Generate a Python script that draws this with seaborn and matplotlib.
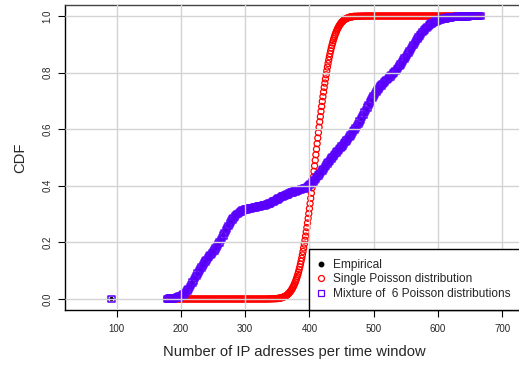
import matplotlib
matplotlib.use("Agg")
import matplotlib.pyplot as plt
from matplotlib.lines import Line2D
import seaborn as sns
import pandas as pd

# ---------------- data ----------------
outlier_x = [92]
outlier_cdf = [0.0]

# mixture of 6 Poisson: CDF every 2 addresses from 178 to 666
mixture_x = list(range(178, 667, 2))
mixture_cdf = [
    0.000, 0.000, 0.001, 0.001, 0.002, 0.002, 0.003, 0.004, 0.005, 0.006,
    0.008, 0.010, 0.013, 0.016, 0.020, 0.025, 0.030, 0.036, 0.043, 0.050,
    0.058, 0.066, 0.074, 0.082, 0.090, 0.098, 0.105, 0.112, 0.119, 0.126,
    0.132, 0.138, 0.144, 0.150, 0.155, 0.160, 0.166, 0.172, 0.178, 0.185,
    0.192, 0.200, 0.208, 0.216, 0.225, 0.234, 0.242, 0.250, 0.258, 0.266,
    0.273, 0.280, 0.286, 0.291, 0.296, 0.300, 0.304, 0.307, 0.310, 0.312,
    0.314, 0.316, 0.317, 0.318, 0.319, 0.320, 0.321, 0.322, 0.323, 0.324,
    0.325, 0.326, 0.327, 0.328, 0.329, 0.330, 0.331, 0.332, 0.334, 0.336,
    0.338, 0.340, 0.342, 0.344, 0.347, 0.350, 0.352, 0.355, 0.357, 0.360,
    0.362, 0.364, 0.366, 0.368, 0.370, 0.372, 0.374, 0.376, 0.377, 0.379,
    0.380, 0.382, 0.383, 0.385, 0.386, 0.388, 0.389, 0.391, 0.393, 0.395,
    0.398, 0.402, 0.407, 0.411, 0.416, 0.421, 0.426, 0.431, 0.437, 0.442,
    0.448, 0.454, 0.460, 0.466, 0.472, 0.478, 0.484, 0.490, 0.496, 0.501,
    0.507, 0.512, 0.518, 0.523, 0.528, 0.533, 0.538, 0.543, 0.549, 0.554,
    0.560, 0.566, 0.572, 0.578, 0.585, 0.591, 0.598, 0.605, 0.612, 0.619,
    0.627, 0.635, 0.643, 0.651, 0.660, 0.668, 0.677, 0.685, 0.694, 0.702,
    0.710, 0.718, 0.725, 0.732, 0.738, 0.744, 0.750, 0.755, 0.760, 0.765,
    0.769, 0.774, 0.778, 0.783, 0.787, 0.792, 0.796, 0.801, 0.806, 0.811,
    0.817, 0.823, 0.829, 0.835, 0.842, 0.849, 0.856, 0.863, 0.870, 0.877,
    0.884, 0.891, 0.898, 0.905, 0.912, 0.918, 0.925, 0.931, 0.937, 0.943,
    0.948, 0.953, 0.958, 0.962, 0.966, 0.970, 0.973, 0.976, 0.978, 0.980,
    0.982, 0.984, 0.986, 0.988, 0.989, 0.990, 0.991, 0.992, 0.993, 0.994,
    0.995, 0.995, 0.996, 0.996, 0.997, 0.997, 0.998, 0.998, 0.998, 0.999,
    0.999, 0.999, 0.999, 0.999, 0.999, 1.000, 1.000, 1.000, 1.000, 1.000,
    1.000, 1.000, 1.000, 1.000, 1.000,
]

# empirical CDF: every 4 addresses from 178 to 666
empirical_x = list(range(178, 667, 4))
empirical_cdf = [
    0.000, 0.001, 0.002, 0.004, 0.006, 0.009, 0.014, 0.021, 0.031, 0.044,
    0.058, 0.073, 0.089, 0.104, 0.118, 0.131, 0.143, 0.155, 0.167, 0.180,
    0.194, 0.209, 0.226, 0.243, 0.259, 0.274, 0.287, 0.297, 0.305, 0.310,
    0.314, 0.317, 0.319, 0.321, 0.323, 0.325, 0.327, 0.329, 0.331, 0.334,
    0.338, 0.342, 0.347, 0.352, 0.357, 0.362, 0.366, 0.370, 0.373, 0.377,
    0.380, 0.383, 0.386, 0.389, 0.393, 0.398, 0.407, 0.416, 0.426, 0.437,
    0.448, 0.460, 0.472, 0.484, 0.496, 0.507, 0.518, 0.528, 0.538, 0.549,
    0.560, 0.572, 0.585, 0.592, 0.605, 0.619, 0.635, 0.652, 0.669, 0.686,
    0.702, 0.717, 0.730, 0.742, 0.753, 0.762, 0.771, 0.780, 0.789, 0.798,
    0.808, 0.819, 0.831, 0.845, 0.859, 0.874, 0.889, 0.903, 0.917, 0.929,
    0.940, 0.950, 0.958, 0.965, 0.970, 0.975, 0.979, 0.983, 0.986, 0.988,
    0.990, 0.992, 0.994, 0.995, 0.996, 0.997, 0.998, 0.999, 0.999, 1.000,
    1.000, 1.000, 1.000,
]

# single Poisson fit: flat low part, steep part (every count), flat high part
poisson_low_x = list(range(178, 350, 2))
poisson_low_cdf = [
    0.0, 0.0, 0.0, 0.0, 0.0, 0.0, 0.0, 0.0, 0.0, 0.0,
    0.0, 0.0, 0.0, 0.0, 0.0, 0.0, 0.0, 0.0, 0.0, 0.0,
    0.0, 0.0, 0.0, 0.0, 0.0, 0.0, 0.0, 0.0, 0.0, 0.0,
    0.0, 0.0, 0.0, 0.0, 0.0, 0.0, 0.0, 0.0, 0.0, 0.0,
    0.0, 0.0, 0.0, 0.0, 0.0, 0.0, 0.0, 0.0, 0.0, 0.0,
    0.0, 0.0, 0.0, 0.0, 0.0, 0.0, 0.0, 0.0, 0.0, 0.0,
    0.0, 0.0, 0.0, 0.0, 0.0, 0.0, 0.0, 0.0, 0.0, 0.0,
    0.0, 0.0, 0.0, 0.0, 0.0, 0.0, 0.0, 0.0, 0.0, 0.0003,
    0.0004, 0.0005, 0.0006, 0.0008, 0.0010, 0.0012,
]
poisson_mid_x = list(range(350, 470))
poisson_mid_cdf = [
    0.0017, 0.0019, 0.0023, 0.0026, 0.0031, 0.0036, 0.0041, 0.0048, 0.0055, 0.0063,
    0.0073, 0.0083, 0.0095, 0.0108, 0.0123, 0.0140, 0.0159, 0.0179, 0.0202, 0.0228,
    0.0255, 0.0287, 0.0320, 0.0358, 0.0398, 0.0442, 0.0491, 0.0542, 0.0599, 0.0660,
    0.0727, 0.0797, 0.0872, 0.0953, 0.1040, 0.1131, 0.1230, 0.1333, 0.1441, 0.1557,
    0.1678, 0.1804, 0.1938, 0.2076, 0.2221, 0.2370, 0.2524, 0.2686, 0.2851, 0.3019,
    0.3196, 0.3372, 0.3557, 0.3741, 0.3929, 0.4121, 0.4313, 0.4510, 0.4705, 0.4901,
    0.5099, 0.5295, 0.5490, 0.5687, 0.5879, 0.6071, 0.6259, 0.6443, 0.6628, 0.6804,
    0.6981, 0.7149, 0.7314, 0.7476, 0.7630, 0.7779, 0.7924, 0.8062, 0.8196, 0.8322,
    0.8443, 0.8559, 0.8667, 0.8770, 0.8869, 0.8960, 0.9047, 0.9128, 0.9203, 0.9273,
    0.9340, 0.9401, 0.9458, 0.9509, 0.9558, 0.9602, 0.9642, 0.9680, 0.9713, 0.9745,
    0.9772, 0.9798, 0.9821, 0.9841, 0.9860, 0.9877, 0.9892, 0.9905, 0.9917, 0.9927,
    0.9937, 0.9945, 0.9952, 0.9959, 0.9964, 0.9969, 0.9974, 0.9977, 0.9981, 0.9984,
]
poisson_high_x = list(range(470, 667, 2))
poisson_high_cdf = [
    0.9987, 0.9990, 0.9992, 0.9994, 0.9995, 0.9996, 0.9997, 0.9998, 0.9999, 0.9999,
    1.0, 1.0, 1.0, 1.0, 1.0, 1.0, 1.0, 1.0, 1.0, 1.0,
    1.0, 1.0, 1.0, 1.0, 1.0, 1.0, 1.0, 1.0, 1.0, 1.0,
    1.0, 1.0, 1.0, 1.0, 1.0, 1.0, 1.0, 1.0, 1.0, 1.0,
    1.0, 1.0, 1.0, 1.0, 1.0, 1.0, 1.0, 1.0, 1.0, 1.0,
    1.0, 1.0, 1.0, 1.0, 1.0, 1.0, 1.0, 1.0, 1.0, 1.0,
    1.0, 1.0, 1.0, 1.0, 1.0, 1.0, 1.0, 1.0, 1.0, 1.0,
    1.0, 1.0, 1.0, 1.0, 1.0, 1.0, 1.0, 1.0, 1.0, 1.0,
    1.0, 1.0, 1.0, 1.0, 1.0, 1.0, 1.0, 1.0, 1.0, 1.0,
    1.0, 1.0, 1.0, 1.0, 1.0, 1.0, 1.0, 1.0, 1.0,
]

legend_labels = ["Empirical", "Single Poisson distribution",
                 "Mixture of  6 Poisson distributions"]
x_ticks = [100, 200, 300, 400, 500, 600, 700]
y_ticks = [0.0, 0.2, 0.4, 0.6, 0.8, 1.0]

# ---------------- frames ----------------
emp_df = pd.DataFrame({"x": outlier_x + empirical_x, "cdf": outlier_cdf + empirical_cdf})
mix_df = pd.DataFrame({"x": outlier_x + mixture_x, "cdf": outlier_cdf + mixture_cdf})
poi_df = pd.DataFrame({"x": poisson_low_x + poisson_mid_x + poisson_high_x,
                       "cdf": poisson_low_cdf + poisson_mid_cdf + poisson_high_cdf})

# ---------------- style ----------------
sns.set_style("white")
plt.rcParams["font.family"] = ["Liberation Sans", "DejaVu Sans"]

RED = "#FF0000"
PURPLE = "#5B00FF"

W, H = 519, 366
fig = plt.figure(figsize=(W / 100, H / 100), dpi=100)
L, R, T, B = 65, 524, 5, 310
ax = fig.add_axes([L / W, 1 - B / H, (R - L) / W, (B - T) / H])

sns.scatterplot(data=emp_df, x="x", y="cdf", ax=ax, marker="o", s=10,
                color="black", edgecolor="none", linewidth=0, legend=False, zorder=1)
sns.scatterplot(data=poi_df, x="x", y="cdf", ax=ax, marker="o", s=19,
                color=RED, facecolors="none", edgecolor=RED, linewidth=0.9,
                legend=False, zorder=1)
sns.scatterplot(data=mix_df, x="x", y="cdf", ax=ax, marker="s", s=22,
                color=PURPLE, facecolors="none", edgecolor=PURPLE, linewidth=1.1,
                legend=False, zorder=1)
for coll in ax.collections[1:]:
    coll.set_facecolor("none")

ax.set_xlim(19.5, 734)
ax.set_ylim(-0.0389, 1.0389)
ax.set_xticks(x_ticks)
ax.set_yticks(y_ticks)
ax.set_yticklabels([f"{v:.1f}" for v in y_ticks])
ax.grid(True, color="#D3D3D3", linewidth=1.0)
ax.set_axisbelow(False)

for side in ["left", "bottom", "top"]:
    ax.spines[side].set_visible(True)
    ax.spines[side].set_color("black")
    ax.spines[side].set_linewidth(1.0)
ax.spines["top"].set_color("#444444")
ax.spines["right"].set_visible(False)

ax.tick_params(axis="both", which="major", direction="out", length=5, width=0.8,
               color="black", labelsize=7, pad=5, bottom=True, left=True)
ax.tick_params(axis="y", labelrotation=90, pad=4)
for lbl in ax.get_yticklabels():
    lbl.set_va("center")

ax.set_xlabel("Number of IP adresses per time window", fontsize=10.6)
ax.set_ylabel("CDF", fontsize=10.6)
ax.xaxis.set_label_coords(0.5, (B - 352) / (B - T))
ax.xaxis.label.set_va("center")
ax.yaxis.set_label_coords((20 - L) / (R - L), 0.5)
ax.yaxis.label.set_va("center")

handles = [
    Line2D([], [], ls="", marker="o", color="black", markersize=3.2),
    Line2D([], [], ls="", marker="o", markerfacecolor="none", markeredgecolor=RED,
           markersize=4.3, markeredgewidth=0.9),
    Line2D([], [], ls="", marker="s", markerfacecolor="none", markeredgecolor=PURPLE,
           markersize=3.8, markeredgewidth=0.9),
]
x0 = (309 - L) / (R - L)
leg = ax.legend(handles, legend_labels, loc="lower left",
                bbox_to_anchor=(x0, 0.0, 1.0 - x0, 0.3), mode="expand",
                fontsize=8.6, frameon=True, fancybox=False, edgecolor="black",
                framealpha=1, borderaxespad=0, handlelength=0.34,
                handletextpad=0.84, labelspacing=0.2, borderpad=0.85)
leg.get_frame().set_linewidth(1.0)
leg.set_zorder(5)

fig.savefig("out.png", dpi=100)
